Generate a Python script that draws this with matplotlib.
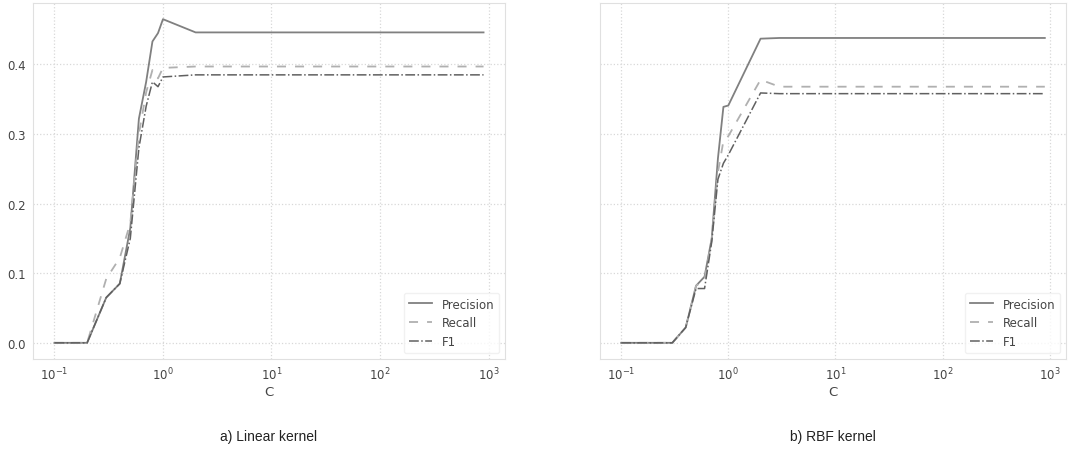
import numpy as np
import matplotlib.pyplot as plt

# grade de C: 0.1..0.9, 1..9, 10..90, 100..900
C = [0.1, 0.2, 0.3, 0.4, 0.5, 0.6, 0.7, 0.8, 0.9,
     1, 2, 3, 4, 5, 6, 7, 8, 9,
     10, 20, 30, 40, 50, 60, 70, 80, 90,
     100, 200, 300, 400, 500, 600, 700, 800, 900]
n_flat = 26  # pontos de C=2 até C=900

## kernel linear
prec_lin = [0.0, 0.0, 0.065, 0.085, 0.165, 0.322, 0.375, 0.433, 0.445, 0.465] + [0.446] * n_flat
rec_lin = [0.0, 0.0, 0.092, 0.122, 0.172, 0.30, 0.36, 0.392, 0.38, 0.395] + [0.397] * n_flat
f1_lin = [0.0, 0.0, 0.065, 0.085, 0.15, 0.28, 0.34, 0.375, 0.368, 0.382] + [0.385] * n_flat

## kernel RBF
prec_rbf = [0.0, 0.0, 0.0, 0.022, 0.082, 0.095, 0.15, 0.265, 0.339, 0.341, 0.437] + [0.438] * (n_flat - 1)
rec_rbf = [0.0, 0.0, 0.0, 0.022, 0.082, 0.09, 0.148, 0.245, 0.29, 0.297, 0.378] + [0.368] * (n_flat - 1)
f1_rbf = [0.0, 0.0, 0.0, 0.022, 0.078, 0.078, 0.145, 0.235, 0.258, 0.27, 0.359] + [0.358] * (n_flat - 1)

plt.rcParams['font.family'] = 'DejaVu Sans'
fig = plt.figure(figsize=(10.7, 4.52), dpi=100)
ax1 = fig.add_axes([33 / 1070, 92 / 452, 472 / 1070, 356 / 452])
ax2 = fig.add_axes([600 / 1070, 92 / 452, 466 / 1070, 356 / 452], sharey=ax1)

for ax, p, r, f in [(ax1, prec_lin, rec_lin, f1_lin), (ax2, prec_rbf, rec_rbf, f1_rbf)]:
    ax.plot(C, p, '-', color='#808080', lw=1.3, label='Precision')
    ax.plot(C, r, '--', color='#b0b0b0', lw=1.3, dashes=(5, 5), label='Recall')
    ax.plot(C, f, '-.', color='#606060', lw=1.1, label='F1')
    ax.set_xscale('log')
    ax.grid(True, ls=':', color='#d8d8d8', lw=0.9)
    for s in ax.spines.values():
        s.set_color('#e0e0e0')
    ax.tick_params(which='both', length=0, labelsize=8.5, colors='#444444', pad=5)
    ax.set_xlabel('C', fontsize=9.5, color='#444444', labelpad=2)
    leg = ax.legend(loc='lower right', fontsize=8.5, frameon=True)
    leg.get_frame().set_edgecolor('#eeeeee')
    for t in leg.get_texts():
        t.set_color('#444444')

ax2.tick_params(labelleft=False)
ax1.set_yticks([0.0, 0.1, 0.2, 0.3, 0.4])

fig.text(269 / 1070, 15 / 452, 'a) Linear kernel', ha='center', va='center',
         fontsize=10, family='Liberation Sans', color='#222222')
fig.text(833 / 1070, 15 / 452, 'b) RBF kernel', ha='center', va='center',
         fontsize=10, family='Liberation Sans', color='#222222')

plt.savefig('out.png')
